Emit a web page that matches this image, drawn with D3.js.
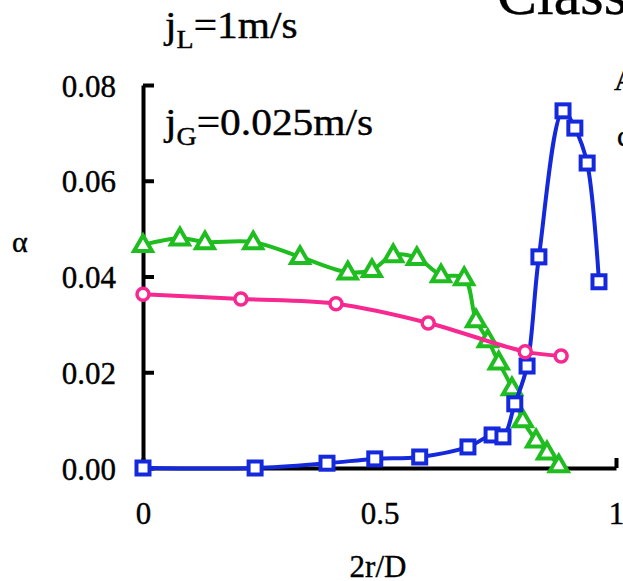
<!DOCTYPE html>
<html><head><meta charset="utf-8">
<script src="https://cdn.jsdelivr.net/npm/d3@7"></script>
<style>
body{margin:0;background:#fff;}
text{font-family:"Liberation Serif","Times New Roman",serif;fill:#000;stroke:#000;stroke-width:0.4px;}
</style></head>
<body><svg id="c" width="623" height="581"></svg>
<script>
// Data (x = 2r/D, y = alpha)
const blueX = [0, 0.237, 0.389, 0.490, 0.585, 0.687, 0.738, 0.761, 0.786, 0.812, 0.837, 0.888, 0.913, 0.939, 0.964];
const blueY = [0, 0, 0.0010, 0.0019, 0.0023, 0.0044, 0.0069, 0.0065, 0.0134, 0.0213, 0.0441, 0.0746, 0.0710, 0.0637, 0.0389];
const pinkX = [0, 0.207, 0.408, 0.603, 0.808, 0.884];
const pinkY = [0.0363, 0.0353, 0.0343, 0.0303, 0.0243, 0.0234];
const greenX = [0, 0.078, 0.131, 0.233, 0.332, 0.433, 0.484, 0.529, 0.579, 0.630, 0.679, 0.704, 0.729, 0.752, 0.780, 0.803, 0.831, 0.854, 0.879];
const greenY = [0.0466, 0.0480, 0.0472, 0.0472, 0.0441, 0.0409, 0.0414, 0.0445, 0.0439, 0.0403, 0.0397, 0.0309, 0.0267, 0.0221, 0.0167, 0.0100, 0.0058, 0.0033, 0.0006];
const yTicks = [0, 0.02, 0.04, 0.06, 0.08];
const yTickLabels = ["0.00", "0.02", "0.04", "0.06", "0.08"];
const xTicks = [0, 0.5, 1];
const xTickLabels = ["0", "0.5", "1"];

const svg = d3.select("#c");
const x = d3.scaleLinear().domain([0, 1]).range([143, 616]);
const y = d3.scaleLinear().domain([0, 0.08]).range([468, 85]);

// Texts
svg.append("text").attr("x", 497).attr("y", 14).attr("font-size", 60).text("Class");
svg.append("text").attr("x", 614).attr("y", 90).attr("font-size", 30).text("A");
svg.append("text").attr("x", 617).attr("y", 146).attr("font-size", 30).text("c");

const jl = svg.append("text").attr("transform", "translate(165,38) scale(1.12,1)").attr("font-size", 37);
jl.append("tspan").text("j");
jl.append("tspan").attr("font-size", 25).attr("dy", 10).text("L");
jl.append("tspan").attr("dy", -10).text("=1m/s");

const jg = svg.append("text").attr("transform", "translate(165,135) scale(1.12,1)").attr("font-size", 37);
jg.append("tspan").text("j");
jg.append("tspan").attr("font-size", 25).attr("dy", 10).text("G");
jg.append("tspan").attr("dy", -10).text("=0.025m/s");

svg.append("text").attr("x", 12).attr("y", 252).attr("font-size", 30).text("α");
svg.append("text").attr("x", 378).attr("y", 577).attr("font-size", 31).attr("text-anchor", "middle").text("2r/D");

// Axes
const ya = d3.axisLeft(y).tickValues(yTicks).tickFormat((d, i) => yTickLabels[i]).tickSizeInner(-11).tickSizeOuter(0).tickPadding(27);
const yg = svg.append("g").attr("transform", `translate(${x(0)},0)`).call(ya);
const xa = d3.axisBottom(x).tickValues(xTicks).tickFormat((d, i) => xTickLabels[i]).tickSizeInner(-10).tickSizeOuter(0).tickPadding(34);
const xg = svg.append("g").attr("transform", `translate(0,${y(0)})`).call(xa);
[yg, xg].forEach(g => {
  g.select(".domain").attr("stroke", "#000").attr("stroke-width", 4);
  g.selectAll(".tick line").attr("stroke", "#000").attr("stroke-width", 4);
  g.selectAll(".tick text").attr("font-family", "Liberation Serif").attr("font-size", 31).attr("fill", "#000").attr("stroke", "#000").attr("stroke-width", 0.4);
});
yg.selectAll(".tick text").attr("dy", "0.36em");
xg.selectAll(".tick text").attr("dy", "0.72em");

// Series
const line = d3.line().x(d => x(d[0])).y(d => y(d[1])).curve(d3.curveCatmullRom.alpha(0.5));
const green = greenX.map((v, i) => [v, greenY[i]]);
const blue = blueX.map((v, i) => [v, blueY[i]]);
const pink = pinkX.map((v, i) => [v, pinkY[i]]);
const cG = "#1fbd1f", cB = "#1428dc", cP = "#f7288f";

svg.append("path").datum(green).attr("d", line).attr("fill", "none").attr("stroke", cG).attr("stroke-width", 4);
svg.selectAll(".tri").data(green).join("path").attr("class", "tri")
  .attr("d", d3.symbol(d3.symbolTriangle, 140))
  .attr("transform", d => `translate(${x(d[0])},${y(d[1]) + 1})`)
  .attr("fill", "#fff").attr("stroke", cG).attr("stroke-width", 4);

svg.append("path").datum(blue).attr("d", line).attr("fill", "none").attr("stroke", cB).attr("stroke-width", 4);
svg.selectAll(".sq").data(blue).join("rect").attr("class", "sq")
  .attr("x", d => x(d[0]) - 6.5).attr("y", d => y(d[1]) - 6.5).attr("width", 13).attr("height", 13)
  .attr("fill", "#fff").attr("stroke", cB).attr("stroke-width", 4);

svg.append("path").datum(pink).attr("d", line).attr("fill", "none").attr("stroke", cP).attr("stroke-width", 4);
svg.selectAll(".ci").data(pink).join("circle").attr("class", "ci")
  .attr("cx", d => x(d[0])).attr("cy", d => y(d[1])).attr("r", 6)
  .attr("fill", "#fff").attr("stroke", cP).attr("stroke-width", 3.5);
</script></body></html>
